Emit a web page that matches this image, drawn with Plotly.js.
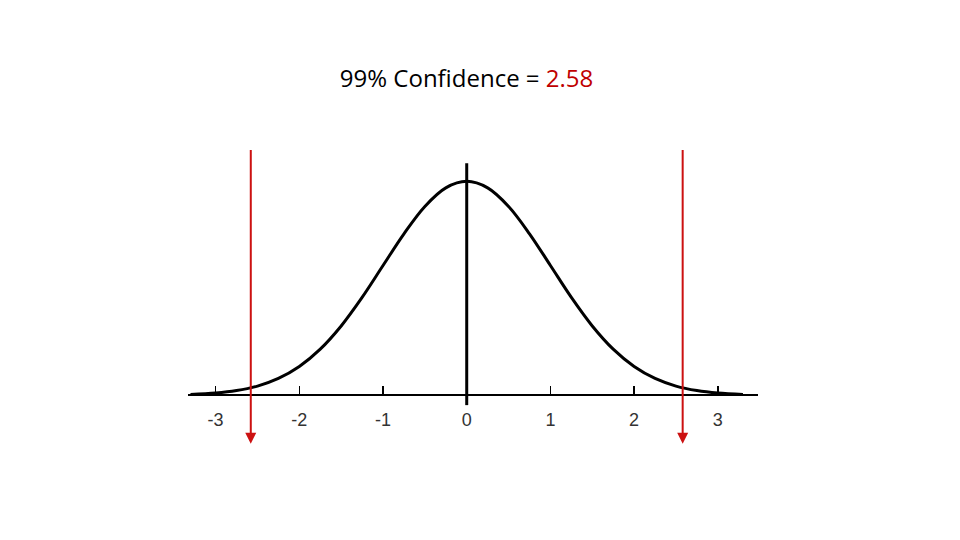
<!DOCTYPE html>
<html>
<head>
<meta charset="utf-8">
<script src="https://cdn.plot.ly/plotly-3.0.1.min.js"></script>
<style>html,body{margin:0;padding:0;background:#fff;}#chart{width:960px;height:540px;}</style>
</head>
<body>
<div id="chart"></div>
<script>
// Curve values (standard normal density shape)
var curveX = [-3.3, -3.0, -2.75, -2.5, -2.25, -2.0, -1.75, -1.5, -1.25, -1.0, -0.75, -0.5, -0.25, 0,
              0.25, 0.5, 0.75, 1.0, 1.25, 1.5, 1.75, 2.0, 2.25, 2.5, 2.75, 3.0, 3.3];
var curveY = [0.0017, 0.0044, 0.0091, 0.0175, 0.0317, 0.054, 0.0863, 0.1295, 0.1826, 0.242, 0.3011, 0.3521, 0.3867, 0.3989,
              0.3867, 0.3521, 0.3011, 0.242, 0.1826, 0.1295, 0.0863, 0.054, 0.0317, 0.0175, 0.0091, 0.0044, 0.0017];
var tickValues = [-3, -2, -1, 0, 1, 2, 3];
var tickLabels = ['-3', '-2', '-1', '0', '1', '2', '3'];
var criticalValues = [-2.58, 2.58];
var titleText = '99% Confidence = ';
var titleValue = '2.58';

var yMin = -0.15, yMax = 0.5;
var zeroPaper = (0 - yMin) / (yMax - yMin);

var traces = [
  {x: curveX, y: curveY, type: 'scatter', mode: 'lines', cliponaxis: false,
   line: {color: '#000', width: 3, shape: 'spline', smoothing: 1}, hoverinfo: 'skip'},
  {x: [0, 0], y: [-0.018, 0.4325], type: 'scatter', mode: 'lines', cliponaxis: false,
   line: {color: '#000', width: 3}, hoverinfo: 'skip'}
];

var annotations = criticalValues.map(function (v) {
  return {x: v, y: -0.09, ax: v, ay: 0.46, xref: 'x', yref: 'y', axref: 'x', ayref: 'y',
          showarrow: true, arrowhead: 2, arrowsize: 1.1, arrowwidth: 2, arrowcolor: '#cc1111', text: ''};
});

var layout = {
  width: 960, height: 540,
  margin: {l: 188, r: 202, t: 127, b: 64},
  paper_bgcolor: '#fff', plot_bgcolor: '#fff',
  showlegend: false,
  title: {text: titleText + '<span style="color:#c00000">' + titleValue + '</span>',
          x: 0.486, xanchor: 'center', y: 1 - 79 / 540, yanchor: 'middle',
          font: {family: 'Open Sans, Liberation Sans, sans-serif', size: 24, color: '#000'}},
  xaxis: {range: [-3.33, 3.48], anchor: 'free', position: zeroPaper,
          showline: true, linecolor: '#000', linewidth: 2,
          ticks: 'inside', ticklen: 8, tickwidth: 1.5, tickcolor: '#000',
          ticklabelstandoff: 8,
          tickvals: tickValues, ticktext: tickLabels,
          tickfont: {family: 'Liberation Sans, Arial, sans-serif', size: 18, color: '#333'},
          showgrid: false, zeroline: false, fixedrange: true},
  yaxis: {range: [yMin, yMax], visible: false, showgrid: false, zeroline: false, fixedrange: true},
  annotations: annotations
};

Plotly.newPlot('chart', traces, layout, {displayModeBar: false, staticPlot: true});
</script>
</body>
</html>
